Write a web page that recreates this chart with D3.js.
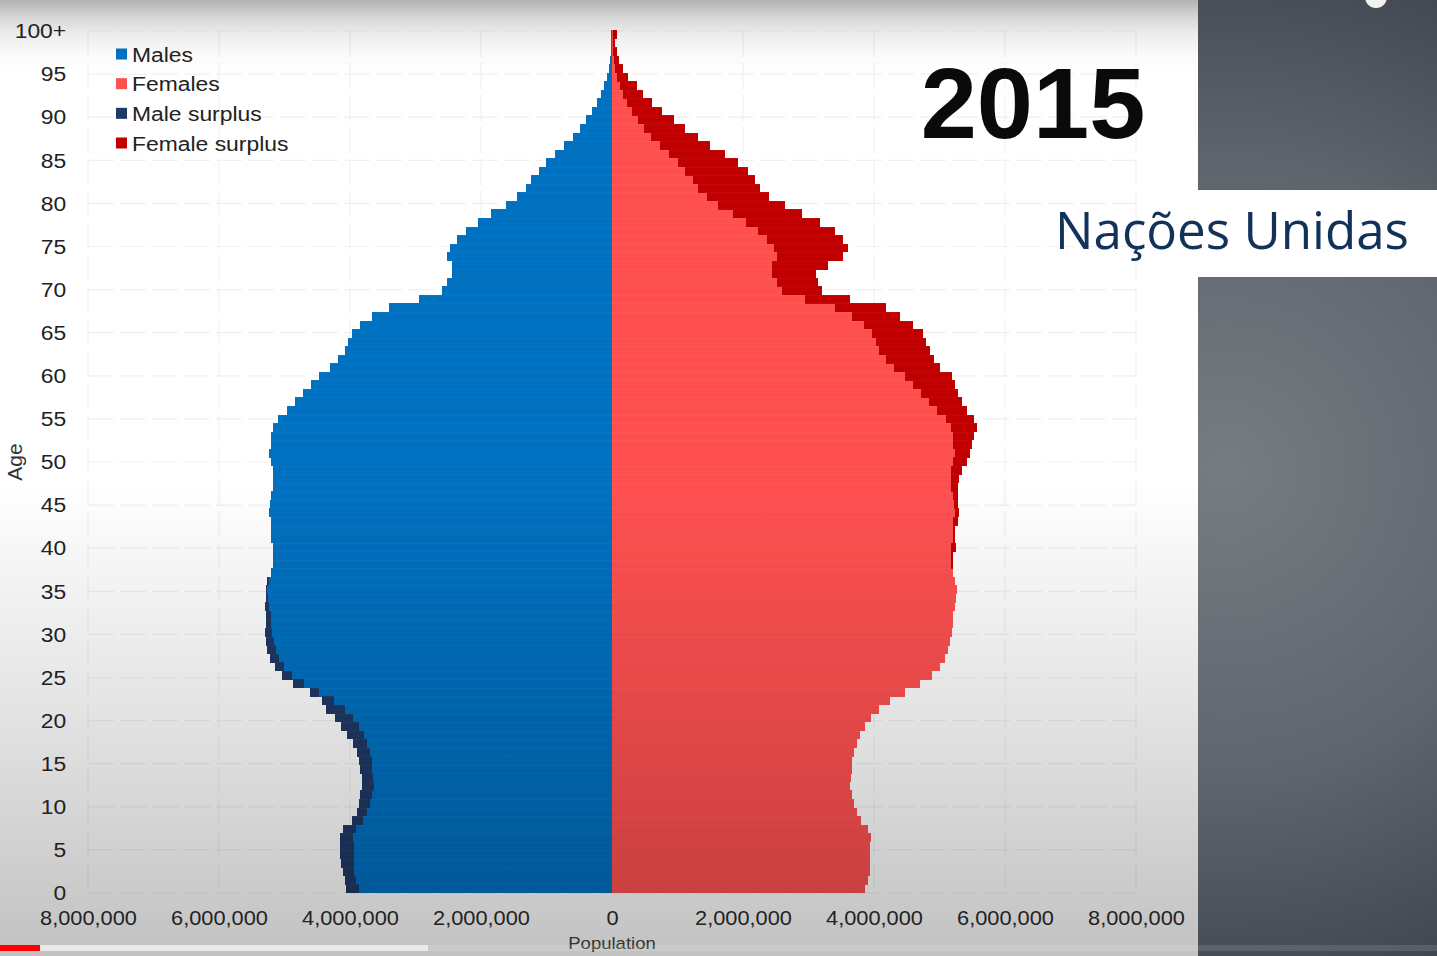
<!DOCTYPE html>
<html>
<head>
<meta charset="utf-8">
<script src="https://cdn.jsdelivr.net/npm/d3@7"></script>
<style>
  html, body { margin: 0; padding: 0; background: #ffffff; overflow: hidden; }
  svg { display: block; }
</style>
</head>
<body>
<svg id="chart" width="1437" height="956"></svg>
<script>
// ---------------- DATA ----------------
const ages = d3.range(0, 101);                       // 0 ... 100 (100 = "100+")
const ageTickValues = d3.range(0, 101, 5);
const ageTickLabels = ageTickValues.map(a => (a === 100 ? "100+" : String(a)));
const popTickValues = [-8e6, -6e6, -4e6, -2e6, 0, 2e6, 4e6, 6e6, 8e6];
const popTickLabels = ["8,000,000", "6,000,000", "4,000,000", "2,000,000", "0",
                       "2,000,000", "4,000,000", "6,000,000", "8,000,000"];
const legendLabels = ["Males", "Females", "Male surplus", "Female surplus"];
const yearLabel = "2015";
const sourceLabel = "Nações Unidas";
const xTitle = "Population";
const yTitle = "Age";

// population by single year of age, in millions
const males = [
  4.06, 4.07, 4.10, 4.14, 4.15, 4.15, 4.15, 4.10, 3.97, 3.90,
  3.87, 3.85, 3.82, 3.82, 3.85, 3.86, 3.90, 3.95, 4.05, 4.13,
  4.23, 4.36, 4.43, 4.61, 4.87, 5.04, 5.14, 5.22, 5.26, 5.28,
  5.30, 5.28, 5.28, 5.30, 5.28, 5.28, 5.26, 5.20, 5.18, 5.18,
  5.18, 5.20, 5.20, 5.21, 5.23, 5.22, 5.20, 5.18, 5.17, 5.18,
  5.21, 5.23, 5.21, 5.20, 5.18, 5.10, 4.96, 4.84, 4.72, 4.60,
  4.47, 4.31, 4.18, 4.08, 4.03, 3.97, 3.85, 3.66, 3.40, 2.95,
  2.60, 2.52, 2.45, 2.45, 2.52, 2.48, 2.37, 2.23, 2.04, 1.84,
  1.62, 1.45, 1.31, 1.24, 1.12, 1.01, 0.87, 0.73, 0.59, 0.49,
  0.40, 0.31, 0.23, 0.17, 0.12, 0.08, 0.05, 0.03, 0.02, 0.01,
  0.01
];
const females = [
  3.86, 3.91, 3.94, 3.94, 3.94, 3.94, 3.95, 3.91, 3.80, 3.74,
  3.70, 3.67, 3.63, 3.65, 3.66, 3.67, 3.69, 3.74, 3.79, 3.86,
  3.96, 4.07, 4.24, 4.47, 4.70, 4.88, 5.01, 5.08, 5.13, 5.16,
  5.19, 5.21, 5.21, 5.23, 5.25, 5.26, 5.24, 5.21, 5.20, 5.21,
  5.25, 5.24, 5.24, 5.29, 5.30, 5.29, 5.28, 5.28, 5.30, 5.34,
  5.42, 5.47, 5.49, 5.52, 5.57, 5.53, 5.42, 5.35, 5.28, 5.24,
  5.19, 5.01, 4.91, 4.85, 4.80, 4.75, 4.60, 4.40, 4.19, 3.63,
  3.20, 3.15, 3.12, 3.30, 3.53, 3.60, 3.53, 3.40, 3.18, 2.90,
  2.64, 2.39, 2.26, 2.18, 2.08, 1.93, 1.73, 1.50, 1.32, 1.11,
  0.94, 0.76, 0.61, 0.48, 0.38, 0.25, 0.17, 0.11, 0.07, 0.05,
  0.07
];
const UNIT = 1e6;

// ---------------- STYLE ----------------
const colors = {
  males: "#0070c0",
  females: "#ff5050",
  maleSurplus: "#1f3864",
  femaleSurplus: "#c00000"
};
const legendColors = [colors.males, colors.females, colors.maleSurplus, colors.femaleSurplus];
const FONT = "'Liberation Sans', Arial, Helvetica, sans-serif";
const STRETCH = 1.09;   // the source frame is slightly stretched horizontally

const W = 1437, H = 956, PANEL_X = 1198;

const svg = d3.select("#chart");
const defs = svg.append("defs");

// ---------------- SCALES ----------------
const x = d3.scaleLinear().domain([-8e6, 8e6]).range([88, 1136]);
const yBand = d3.scaleBand().domain(ages.slice().reverse()).range([30, 893]).paddingInner(0);
const yLin = d3.scaleLinear().domain([0, 100]).range([893, 31]);

const rows = ages.map(a => ({ age: a, m: males[a] * UNIT, f: females[a] * UNIT }));

// ---------------- BACKGROUND ----------------
svg.append("rect").attr("x", 0).attr("y", 0).attr("width", PANEL_X).attr("height", H).attr("fill", "#ffffff");

// ---------------- GRID ----------------
const grid = svg.append("g").attr("stroke", "#f0f0f0").attr("stroke-width", 1.2).attr("stroke-dasharray", "26,6");
grid.selectAll("line.v").data(popTickValues).join("line")
  .attr("class", "v")
  .attr("x1", d => x(d)).attr("x2", d => x(d))
  .attr("y1", yLin(100)).attr("y2", yLin(0));
grid.selectAll("line.h").data(ageTickValues).join("line")
  .attr("class", "h")
  .attr("x1", x(-8e6)).attr("x2", x(8e6))
  .attr("y1", d => yLin(d)).attr("y2", d => yLin(d));

// ---------------- BARS ----------------
const bars = svg.append("g").attr("shape-rendering", "crispEdges");
const bh = yBand.bandwidth();

bars.selectAll("rect.male").data(rows).join("rect")
  .attr("class", "male")
  .attr("x", d => x(-Math.min(d.m, d.f)))
  .attr("width", d => x(0) - x(-Math.min(d.m, d.f)))
  .attr("y", d => yBand(d.age)).attr("height", bh + 0.3)
  .attr("fill", colors.males);

bars.selectAll("rect.msur").data(rows.filter(d => d.m > d.f)).join("rect")
  .attr("class", "msur")
  .attr("x", d => x(-d.m))
  .attr("width", d => x(-d.f) - x(-d.m))
  .attr("y", d => yBand(d.age)).attr("height", bh + 0.3)
  .attr("fill", colors.maleSurplus);

bars.selectAll("rect.female").data(rows).join("rect")
  .attr("class", "female")
  .attr("x", x(0))
  .attr("width", d => x(Math.min(d.m, d.f)) - x(0))
  .attr("y", d => yBand(d.age)).attr("height", bh + 0.3)
  .attr("fill", colors.females);

bars.selectAll("rect.fsur").data(rows.filter(d => d.f > d.m)).join("rect")
  .attr("class", "fsur")
  .attr("x", d => x(d.m))
  .attr("width", d => x(d.f) - x(d.m))
  .attr("y", d => yBand(d.age)).attr("height", bh + 0.3)
  .attr("fill", colors.femaleSurplus);

// very faint separators between the single-year bars
bars.selectAll("line.sep").data(rows).join("line")
  .attr("class", "sep")
  .attr("x1", d => x(-Math.max(d.m, d.f)))
  .attr("x2", d => x(Math.max(d.m, d.f)))
  .attr("y1", d => yBand(d.age) + 0.5).attr("y2", d => yBand(d.age) + 0.5)
  .attr("stroke", "rgba(255,255,255,0.035)").attr("stroke-width", 1);

// ---------------- FRAME SHADING (vignette of the video frame) ----------------
const gTop = defs.append("linearGradient").attr("id", "shadeTop").attr("x1", 0).attr("x2", 0).attr("y1", 0).attr("y2", 1);
gTop.append("stop").attr("offset", 0).attr("stop-color", "#000").attr("stop-opacity", 0.30);
gTop.append("stop").attr("offset", 0.22).attr("stop-color", "#000").attr("stop-opacity", 0.17);
gTop.append("stop").attr("offset", 0.45).attr("stop-color", "#000").attr("stop-opacity", 0.08);
gTop.append("stop").attr("offset", 0.72).attr("stop-color", "#000").attr("stop-opacity", 0.025);
gTop.append("stop").attr("offset", 1).attr("stop-color", "#000").attr("stop-opacity", 0);
svg.append("rect").attr("x", 0).attr("y", 0).attr("width", PANEL_X).attr("height", 72)
  .attr("fill", "url(#shadeTop)").attr("pointer-events", "none");

const gBot = defs.append("linearGradient").attr("id", "shadeBot").attr("x1", 0).attr("x2", 0).attr("y1", 0).attr("y2", 1);
gBot.append("stop").attr("offset", 0).attr("stop-color", "#000").attr("stop-opacity", 0);
gBot.append("stop").attr("offset", 0.45).attr("stop-color", "#000").attr("stop-opacity", 0.10);
gBot.append("stop").attr("offset", 0.84).attr("stop-color", "#000").attr("stop-opacity", 0.20);
gBot.append("stop").attr("offset", 1).attr("stop-color", "#000").attr("stop-opacity", 0.24);
svg.append("rect").attr("x", 0).attr("y", 480).attr("width", PANEL_X).attr("height", H - 480)
  .attr("fill", "url(#shadeBot)").attr("pointer-events", "none");

// ---------------- AXES ----------------
const yAxis = svg.append("g")
  .attr("transform", "translate(76,0)")
  .call(d3.axisLeft(yLin).tickValues(ageTickValues)
        .tickFormat((d, i) => ageTickLabels[i]).tickSize(0).tickPadding(9));
yAxis.select(".domain").remove();
yAxis.selectAll("text")
  .attr("font-family", FONT).attr("font-size", 21).attr("fill", "#222")
  .attr("transform", `scale(${STRETCH},1)`);

const xAxis = svg.append("g")
  .attr("transform", `translate(0,${yLin(0)})`)
  .call(d3.axisBottom(x).tickValues(popTickValues)
        .tickFormat((d, i) => popTickLabels[i]).tickSize(0).tickPadding(18));
xAxis.select(".domain").remove();
xAxis.selectAll("text")
  .attr("font-family", FONT).attr("font-size", 20).attr("fill", "#222")
  .attr("transform", `scale(${STRETCH},1)`);

svg.append("text")
  .attr("transform", `translate(${x(0)},949) scale(${STRETCH},1)`)
  .attr("text-anchor", "middle")
  .attr("font-family", FONT).attr("font-size", 17).attr("fill", "#333")
  .text(xTitle);

svg.append("text")
  .attr("transform", "translate(22,462) rotate(-90)")
  .attr("text-anchor", "middle")
  .attr("font-family", FONT).attr("font-size", 21).attr("fill", "#333")
  .text(yTitle);

// ---------------- LEGEND ----------------
const legend = svg.append("g");
const legendRowY = d3.scalePoint().domain(legendLabels).range([54, 143]);
legend.selectAll("rect").data(legendLabels).join("rect")
  .attr("x", 116).attr("y", d => legendRowY(d) - 5.5)
  .attr("width", 11).attr("height", 11)
  .attr("fill", (d, i) => legendColors[i]);
legend.selectAll("text").data(legendLabels).join("text")
  .attr("transform", d => `translate(132,${legendRowY(d) + 7.5}) scale(${STRETCH},1)`)
  .attr("font-family", FONT).attr("font-size", 21).attr("fill", "#222")
  .text(d => d);

// ---------------- RIGHT PANEL ----------------
const rg = defs.append("radialGradient").attr("id", "panelGrad")
  .attr("gradientUnits", "userSpaceOnUse")
  .attr("cx", 1225).attr("cy", 470).attr("r", 560);
rg.append("stop").attr("offset", 0).attr("stop-color", "#777c83");
rg.append("stop").attr("offset", 0.55).attr("stop-color", "#5f656d");
rg.append("stop").attr("offset", 1).attr("stop-color", "#3d434c");
svg.append("rect").attr("x", PANEL_X).attr("y", 0).attr("width", W - PANEL_X).attr("height", H)
  .attr("fill", "url(#panelGrad)");
svg.append("rect").attr("x", PANEL_X).attr("y", 190).attr("width", W - PANEL_X).attr("height", 87)
  .attr("fill", "#ffffff");

// small player icon at the very top right
svg.append("circle").attr("cx", 1376).attr("cy", -3).attr("r", 11).attr("fill", "#f2f2f2");

// ---------------- TITLES ----------------
svg.append("text")
  .attr("x", 1033).attr("y", 138)
  .attr("text-anchor", "middle")
  .attr("font-family", FONT).attr("font-weight", "bold").attr("font-size", 101)
  .attr("fill", "#0a0a0a")
  .text(yearLabel);

const src = svg.append("text")
  .attr("x", 1055).attr("y", 249)
  .attr("font-family", "'Open Sans', 'Noto Sans', sans-serif").attr("font-size", 47)
  .attr("fill", "#12325a")
  .text(sourceLabel);
const srcLen = src.node().getComputedTextLength();
if (srcLen > 0) src.attr("font-size", 47 * 354 / srcLen);

// ---------------- VIDEO PROGRESS BAR ----------------
svg.append("rect").attr("x", 0).attr("y", 945).attr("width", W).attr("height", 6)
  .attr("fill", "#ffffff").attr("fill-opacity", 0.12);
svg.append("rect").attr("x", 0).attr("y", 945).attr("width", 428).attr("height", 6)
  .attr("fill", "#e9e9e9");
svg.append("rect").attr("x", 0).attr("y", 945).attr("width", 40).attr("height", 6)
  .attr("fill", "#ff0000");
</script>
</body>
</html>
